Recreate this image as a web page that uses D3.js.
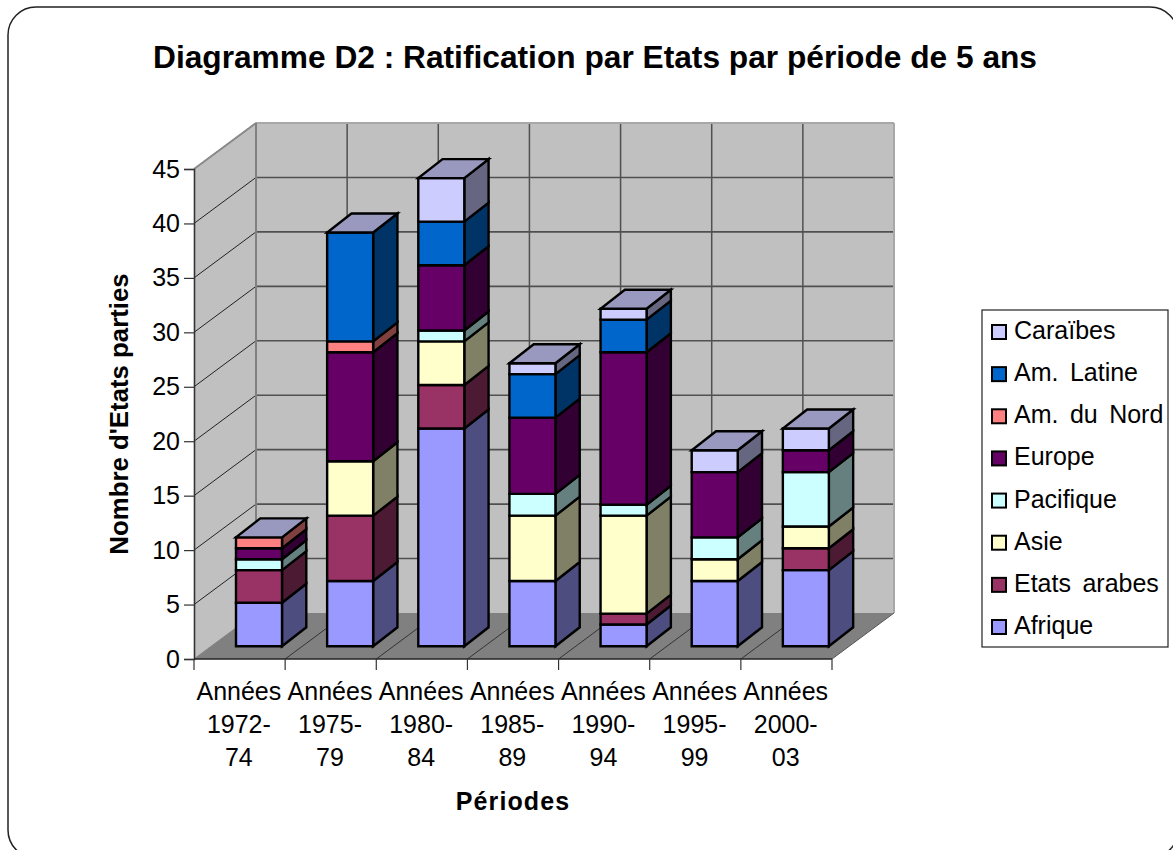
<!DOCTYPE html>
<html><head><meta charset="utf-8">
<script src="https://cdn.jsdelivr.net/npm/d3@7/dist/d3.min.js"></script>
<style>html,body{margin:0;padding:0;background:#fff;overflow:hidden}svg{display:block}text{font-family:"Liberation Sans",Arial,sans-serif;fill:#000}</style>
</head><body><svg id="c" width="1173" height="850"></svg>
<script>
const periods = ["1972-|74","1975-|79","1980-|84","1985-|89","1990-|94","1995-|99","2000-|03"];
const seriesNames = ["Afrique","Etats arabes","Asie","Pacifique","Europe","Am. du Nord","Am. Latine","Caraïbes"];
const afrique   = [4, 6, 20, 6, 2, 6, 7];
const arabes    = [3, 6, 4, 0, 1, 0, 2];
const asie      = [0, 5, 4, 6, 9, 2, 2];
const pacifique = [1, 0, 1, 2, 1, 2, 5];
const europe    = [1, 10, 6, 7, 14, 6, 2];
const amNord    = [1, 1, 0, 0, 0, 0, 0];
const amLatine  = [0, 10, 4, 4, 3, 0, 0];
const caraibes  = [0, 0, 4, 1, 1, 2, 2];
const frontColors = ["#9999FF","#993366","#FFFFCC","#CCFFFF","#660066","#FF8080","#0066CC","#CCCCFF"];
const sideColors  = ["#4D4D80","#4D1A33","#808066","#668080","#330033","#804040","#003366","#666680"];
const topColor = "#9999BF";
const yTicks = [0,5,10,15,20,25,30,35,40,45];

const svg = d3.select("#c");
const rows = periods.map((p,i)=>{
  const r={period:p};
  [afrique,arabes,asie,pacifique,europe,amNord,amLatine,caraibes].forEach((a,k)=>r[seriesNames[k]]=a[i]);
  return r;
});
const stacked = d3.stack().keys(seriesNames)(rows);

// frame
svg.append("rect").attr("x",8).attr("y",7).attr("width",1170).attr("height",851)
  .attr("rx",28).attr("ry",28).attr("fill","#fff").attr("stroke","#222").attr("stroke-width",1.5);

// scales
const x = d3.scaleBand().domain(periods).range([194,832]).paddingInner(0).paddingOuter(0);
const y = d3.scaleLinear().domain([0,45]).range([659,169]);
const wallDx = 62, wallDy = -46;
const barW = 46, barLeft = 42, barOffY = -12.7, depthDx = 24.3, depthDy = -19;
const line = d3.line();
const x0 = x.range()[0], x1 = x.range()[1];

// walls
const poly = (pts,fill,stroke,sw)=>svg.append("path").attr("d",line(pts)+"Z").attr("fill",fill)
  .attr("stroke",stroke||"none").attr("stroke-width",sw||0).attr("stroke-linejoin","miter");
poly([[x0+wallDx,y(45)+wallDy],[x1+wallDx,y(45)+wallDy],[x1+wallDx,y(0)+wallDy],[x0+wallDx,y(0)+wallDy]],"#C0C0C0");
poly([[x0,y(0)],[x0+wallDx,y(0)+wallDy],[x0+wallDx,y(45)+wallDy],[x0,y(45)]],"#C0C0C0");
poly([[x0,y(0)],[x1,y(0)],[x1+wallDx,y(0)+wallDy],[x0+wallDx,y(0)+wallDy]],"#808080");

// grid
const gl=(a,b,c,w)=>svg.append("line").attr("x1",a[0]).attr("y1",a[1]).attr("x2",b[0]).attr("y2",b[1])
  .attr("stroke",c).attr("stroke-width",w);
yTicks.forEach(t=>{
  if(t>0){
    gl([x0,y(t)],[x0+wallDx,y(t)+wallDy],"#222",1);
    if(t<45) gl([x0+wallDx,y(t)+wallDy],[x1+wallDx,y(t)+wallDy],"#505050",1.6);
  }
});
periods.forEach((p,i)=>{
  if(i===0) return;
  const px=x(p);
  gl([px+wallDx,y(45)+wallDy],[px+wallDx,y(0)+wallDy],"#505050",1.5);
  gl([px,y(0)],[px+wallDx,y(0)+wallDy],"#333",1);
});
// wall edges
gl([x0,y(45)],[x0+wallDx,y(45)+wallDy],"#8a8a8a",2);
gl([x0+wallDx,y(45)+wallDy],[x1+wallDx,y(45)+wallDy],"#a8a8a8",2);
gl([x0+wallDx,y(45)+wallDy],[x0+wallDx,y(0)+wallDy],"#808080",2);
gl([x1+wallDx,y(45)+wallDy],[x1+wallDx,y(0)+wallDy],"#a8a8a8",2);
gl([x0,y(0)],[x0+wallDx,y(0)+wallDy],"#808080",1);
gl([x1,y(0)],[x1+wallDx,y(0)+wallDy],"#555",1);

// bars
periods.forEach((p,i)=>{
  const L = x(p)+barLeft, R = L+barW;
  const Y = v=>y(v)+barOffY;
  let topY=null;
  stacked.forEach((s,k)=>{
    const d=s[i]; if(d[1]-d[0]<=0) return;
    const a=Y(d[0]), b=Y(d[1]);
    poly([[R,a],[R+depthDx,a+depthDy],[R+depthDx,b+depthDy],[R,b]],sideColors[k],"#000",2.4);
    poly([[L,a],[R,a],[R,b],[L,b]],frontColors[k],"#000",2.4);
    topY=b;
  });
  poly([[L,topY],[R,topY],[R+depthDx,topY+depthDy],[L+depthDx,topY+depthDy]],topColor,"#000",2.4);
});

// axes
const gy = svg.append("g").attr("transform",`translate(${x0},0)`)
  .call(d3.axisLeft(y).tickValues(yTicks).tickSize(10).tickPadding(4));
gy.select(".domain").attr("stroke","#333").attr("stroke-width",1.6);
gy.selectAll(".tick line").attr("stroke","#333").attr("stroke-width",1.2);
gy.selectAll("text").style("font-family",'"Liberation Sans",Arial,sans-serif').style("font-size","25px").attr("fill","#000");

gl([x0,y(0)],[x1,y(0)],"#222",1.6);
periods.forEach((p,i)=>{
  const px=x(p);
  gl([px,y(0)],[px,y(0)+11],"#333",1.2);
  if(i===periods.length-1) gl([x1,y(0)],[x1,y(0)+11],"#333",1.2);
  const cx=px+x.bandwidth()/2-0.7, lines=["Années",...p.split("|")];
  lines.forEach((t,j)=>svg.append("text").attr("x",cx).attr("y",700+j*33.2)
    .attr("text-anchor","middle").attr("font-size",25).text(t));
});

// titles
svg.append("text").attr("x",595).attr("y",68).attr("text-anchor","middle").attr("font-size",31.7)
  .attr("font-weight","bold").text("Diagramme D2 : Ratification par Etats par période de 5 ans");
svg.append("text").attr("transform","translate(128,414) rotate(-90)").attr("text-anchor","middle")
  .attr("font-size",25.8).attr("font-weight","bold").text("Nombre d'Etats parties");
svg.append("text").attr("x",513).attr("y",810).attr("text-anchor","middle").attr("font-size",25)
  .attr("font-weight","bold").attr("letter-spacing",1.1).text("Périodes");

// legend
svg.append("rect").attr("x",982).attr("y",310).attr("width",186).attr("height",337)
  .attr("fill","#fff").attr("stroke","#222").attr("stroke-width",1.2);
const ly = d3.scalePoint().domain(seriesNames.slice().reverse()).range([331,626]);
seriesNames.forEach((n,k)=>{
  svg.append("rect").attr("x",992).attr("y",ly(n)-6).attr("width",14).attr("height",14)
    .attr("fill",frontColors[k]).attr("stroke","#000").attr("stroke-width",2);
  svg.append("text").attr("x",1014).attr("y",ly(n)+8).attr("font-size",25).attr("word-spacing",4.5).text(n);
});
</script></body></html>
